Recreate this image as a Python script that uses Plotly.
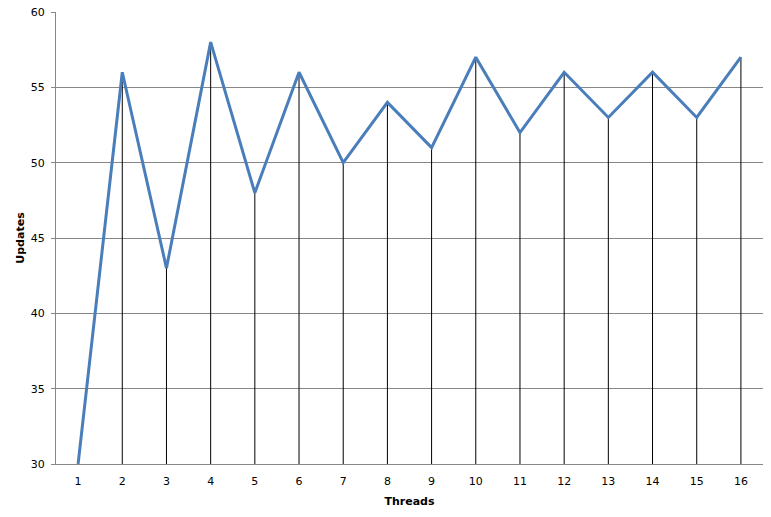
import plotly.graph_objects as go

threads = list(range(1, 17))
updates = [30, 56, 43, 58, 48, 56, 50, 54, 51, 57, 52, 56, 53, 56, 53, 57]
y_min = 30
y_ticks = [30, 35, 40, 45, 50, 55, 60]

drop_x, drop_y = [], []
for t, u in zip(threads, updates):
    drop_x += [t, t, None]
    drop_y += [y_min, u, None]

fig = go.Figure()
fig.add_trace(go.Scatter(x=drop_x, y=drop_y, mode="lines",
                         line=dict(color="black", width=1), hoverinfo="skip", showlegend=False))
fig.add_trace(go.Scatter(x=threads, y=updates, mode="lines",
                         line=dict(color="#4A7EBB", width=3), showlegend=False))

font = dict(family="DejaVu Sans, Verdana, sans-serif", size=11, color="black")
fig.update_layout(
    width=771, height=517,
    margin=dict(l=56, r=8, t=12, b=53),
    paper_bgcolor="white", plot_bgcolor="white",
    font=font,
    xaxis=dict(range=[0.5, 16.5], tickvals=threads, ticktext=[str(t) for t in threads],
               showgrid=False, zeroline=False, showline=True, linecolor="#878787", linewidth=1,
               ticks="", ticklen=0, automargin=False, ticklabelstandoff=7,
               title=dict(text="<b>Threads</b>", font=dict(size=11), standoff=10)),
    yaxis=dict(range=[30, 60], tickvals=y_ticks, showgrid=True, gridcolor="#878787", gridwidth=1,
               zeroline=False, showline=True, linecolor="#878787", linewidth=1,
               ticks="outside", ticklen=4, tickcolor="#878787", automargin=False,
               ticklabelstandoff=4, ticklabeloverflow="allow",
               title=dict(text="<b>Updates</b>", font=dict(size=11), standoff=3)),
)
fig.write_html("out.html", config={"displayModeBar": False},
               post_script="document.body.style.margin='0px';")
